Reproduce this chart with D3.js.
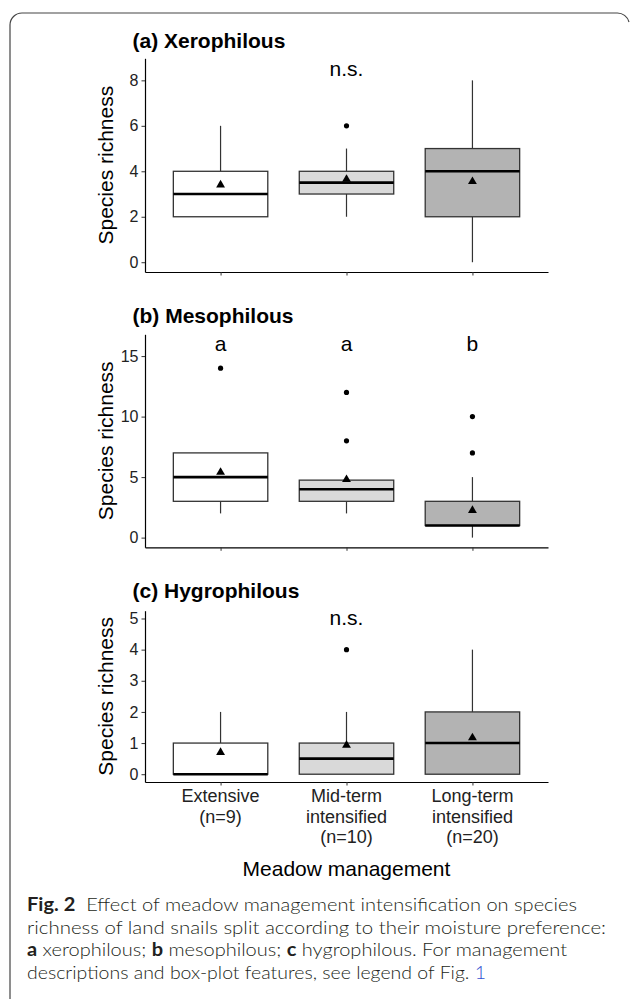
<!DOCTYPE html>
<html>
<head>
<meta charset="utf-8">
<script src="https://cdn.jsdelivr.net/npm/d3@7"></script>
<style>
  html, body { margin: 0; padding: 0; background: #fff; }
  svg { display: block; }
</style>
</head>
<body>
<svg id="chart" width="630" height="999"></svg>
<script>
// ---------------- DATA ----------------
const categories = ["Extensive", "Mid-term", "Long-term"];
const categoryLabels = [["Extensive", "(n=9)"], ["Mid-term", "intensified", "(n=10)"], ["Long-term", "intensified", "(n=20)"]];
const boxFills = ["#ffffff", "#d9d9d9", "#b3b3b3"];

const panelTitles = ["(a) Xerophilous", "(b) Mesophilous", "(c) Hygrophilous"];
const yAxisTitle = "Species richness";
const xAxisTitle = "Meadow management";

// (a) Xerophilous
const xeroLow  = [2, 2, 0];
const xeroQ1   = [2, 3, 2];
const xeroMed  = [3, 3.5, 4];
const xeroQ3   = [4, 4, 5];
const xeroHigh = [6, 5, 8];
const xeroMean = [3.4, 3.65, 3.55];
const xeroOut  = [[], [6], []];
const xeroTicks = [0, 2, 4, 6, 8];
const xeroSig = ["", "n.s.", ""];

// (b) Mesophilous
const mesoLow  = [2, 2, 0];
const mesoQ1   = [3, 3, 1];
const mesoMed  = [5, 4, 1];
const mesoQ3   = [7, 4.75, 3];
const mesoHigh = [7, 4.75, 5];
const mesoMean = [5.4, 4.8, 2.25];
const mesoOut  = [[14], [8, 12], [7, 10]];
const mesoTicks = [0, 5, 10, 15];
const mesoSig = ["a", "a", "b"];

// (c) Hygrophilous
const hygroLow  = [0, 0, 0];
const hygroQ1   = [0, 0, 0];
const hygroMed  = [0, 0.5, 1];
const hygroQ3   = [1, 1, 2];
const hygroHigh = [2, 2, 4];
const hygroMean = [0.7, 0.93, 1.17];
const hygroOut  = [[], [4], []];
const hygroTicks = [0, 1, 2, 3, 4, 5];
const hygroSig = ["", "n.s.", ""];

// y positions (data units) of the significance labels
const sigY = [8.2, 15.45, 4.8];
// y-scale limits (data units)
const yDomains = [[-0.43, 8.97], [-0.8, 16.8], [-0.25, 5.25]];

// ---------------- LAYOUT ----------------
const svg = d3.select("#chart");
const axisFont = "'Liberation Sans', Arial, Helvetica, sans-serif";
const xLeft = 145, xRight = 548;
const panelTops = [58.3, 334.3, 610.7];
const panelBottoms = [272, 547.3, 782];
const titleBaselines = [48, 323, 598.3];

const x = d3.scalePoint().domain(categories).range([xLeft, xRight]).padding(0.6);
const boxW = x.step() * 0.75;

const panels = [
  { low: xeroLow, q1: xeroQ1, med: xeroMed, q3: xeroQ3, high: xeroHigh, mean: xeroMean, out: xeroOut, ticks: xeroTicks, sig: xeroSig },
  { low: mesoLow, q1: mesoQ1, med: mesoMed, q3: mesoQ3, high: mesoHigh, mean: mesoMean, out: mesoOut, ticks: mesoTicks, sig: mesoSig },
  { low: hygroLow, q1: hygroQ1, med: hygroMed, q3: hygroQ3, high: hygroHigh, mean: hygroMean, out: hygroOut, ticks: hygroTicks, sig: hygroSig }
];

// frame
svg.append("path")
  .attr("d", "M10,1000 V25 A12,12 0 0 1 22,13 H617 A12,12 0 0 1 629,22")
  .attr("fill", "none").attr("stroke", "#444").attr("stroke-width", 1.2);

panels.forEach((p, i) => {
  const y = d3.scaleLinear().domain(yDomains[i]).range([panelBottoms[i], panelTops[i]]);
  const g = svg.append("g");

  // title
  g.append("text").attr("x", 132.5).attr("y", titleBaselines[i])
    .attr("font-family", axisFont).attr("font-weight", "bold").attr("font-size", 21)
    .attr("fill", "#000").text(panelTitles[i]);

  // y axis title
  g.append("text")
    .attr("transform", `translate(113,${(panelTops[i] + panelBottoms[i]) / 2}) rotate(-90)`)
    .attr("text-anchor", "middle").attr("font-family", axisFont).attr("font-size", 21)
    .attr("fill", "#000").text(yAxisTitle);

  categories.forEach((c, k) => {
    const cx = x(c);
    // whiskers
    if (p.high[k] > p.q3[k]) {
      g.append("line").attr("x1", cx).attr("x2", cx).attr("y1", y(p.q3[k])).attr("y2", y(p.high[k]))
        .attr("stroke", "#333").attr("stroke-width", 1.2);
    }
    if (p.low[k] < p.q1[k]) {
      g.append("line").attr("x1", cx).attr("x2", cx).attr("y1", y(p.q1[k])).attr("y2", y(p.low[k]))
        .attr("stroke", "#333").attr("stroke-width", 1.2);
    }
    // box
    g.append("rect").attr("x", cx - boxW / 2).attr("width", boxW)
      .attr("y", y(p.q3[k])).attr("height", y(p.q1[k]) - y(p.q3[k]))
      .attr("fill", boxFills[k]).attr("stroke", "#333").attr("stroke-width", 1.3);
    // median
    g.append("line").attr("x1", cx - boxW / 2).attr("x2", cx + boxW / 2)
      .attr("y1", y(p.med[k])).attr("y2", y(p.med[k]))
      .attr("stroke", "#000").attr("stroke-width", 2.6);
    // outliers
    p.out[k].forEach(v => {
      g.append("circle").attr("cx", cx).attr("cy", y(v)).attr("r", 2.6).attr("fill", "#000");
    });
    // mean triangle
    g.append("path").attr("transform", `translate(${cx},${y(p.mean[k])})`)
      .attr("d", d3.symbol().type(d3.symbolTriangle).size(34)()).attr("fill", "#000");
    // significance label
    if (p.sig[k]) {
      g.append("text").attr("x", cx).attr("y", y(sigY[i])).attr("text-anchor", "middle")
        .attr("font-family", axisFont).attr("font-size", 21).attr("fill", "#000").text(p.sig[k]);
    }
  });

  // y axis
  const ya = g.append("g").attr("transform", `translate(${xLeft},0)`)
    .call(d3.axisLeft(y).tickValues(p.ticks).tickFormat(d3.format("d"))
      .tickSize(3.5).tickSizeOuter(0).tickPadding(3));
  ya.select(".domain").attr("stroke", "#000").attr("stroke-width", 1.2);
  ya.selectAll(".tick line").attr("stroke", "#333").attr("stroke-width", 1);
  ya.selectAll(".tick text").attr("font-family", axisFont).attr("font-size", 16).attr("fill", "#222");

  // x axis
  const xa = g.append("g").attr("transform", `translate(0,${panelBottoms[i]})`)
    .call(d3.axisBottom(x).tickSize(3.5).tickSizeOuter(0).tickFormat(""));
  xa.select(".domain").attr("stroke", "#000").attr("stroke-width", 1.2);
  xa.selectAll(".tick line").attr("stroke", "#333").attr("stroke-width", 1);

  if (i === 2) {
    categories.forEach((c, k) => {
      const t = g.append("text").attr("text-anchor", "middle").attr("font-family", axisFont)
        .attr("font-size", 18).attr("fill", "#222");
      categoryLabels[k].forEach((line, j) => {
        t.append("tspan").attr("x", x(c)).attr("y", 801.7 + j * 20.8).text(line);
      });
    });
  }
});

// x axis title
svg.append("text").attr("x", (xLeft + xRight) / 2).attr("y", 876).attr("text-anchor", "middle")
  .attr("font-family", axisFont).attr("font-size", 21).attr("fill", "#000").text(xAxisTitle);

// caption
const capFont = "Lato, 'Open Sans', 'Noto Sans', sans-serif";
const capLines = [
  { y: 911.3, w: 550, parts: [["Fig. 2", true], ["\u00A0\u00A0Effect of meadow management intensification on species", false]] },
  { y: 933.8, w: 579, parts: [["richness of land snails split according to their moisture preference:", false]] },
  { y: 956.0, w: 540, parts: [["a", true], [" xerophilous; ", false], ["b", true], [" mesophilous; ", false], ["c", true], [" hygrophilous. For management", false]] },
  { y: 978.6, w: 459, parts: [["descriptions and box-plot features, see legend of Fig. ", false], ["1", false, "#3352d1"]] }
];
capLines.forEach(l => {
  const t = svg.append("text").attr("x", 27).attr("y", l.y)
    .attr("font-family", capFont).attr("font-size", 18).attr("fill", "#231f20")
    .attr("textLength", l.w).attr("lengthAdjust", "spacingAndGlyphs");
  l.parts.forEach(pt => {
    t.append("tspan").attr("font-weight", pt[1] ? 700 : 300)
      .attr("fill", pt[2] || "#231f20").text(pt[0]);
  });
});
</script>
</body>
</html>
